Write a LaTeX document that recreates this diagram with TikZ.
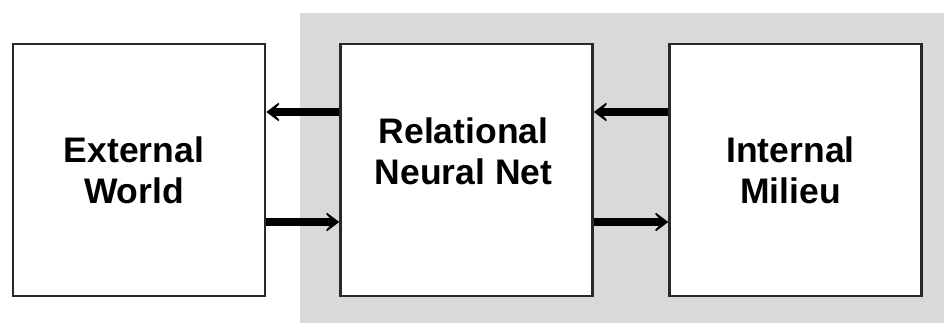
\documentclass[tikz,border=0pt]{standalone}
\usepackage{fontspec}
\setmainfont{Liberation Sans}
\usetikzlibrary{arrows.meta}
\definecolor{panelgray}{RGB}{217,217,217}
\definecolor{edgecol}{RGB}{40,40,40}
\tikzset{
  blockbox/.style={draw=edgecol, line width=2.5pt, fill=white, minimum width=252pt, minimum height=252pt, inner sep=0pt},
  blocktext/.style={font=\bfseries\fontsize{35.5}{41}\selectfont, align=center, inner sep=0pt},
  flow/.style={line width=8pt, -{Stealth[length=18pt, width=27pt, inset=12pt]}}
}
\begin{document}
\begin{tikzpicture}[x=1pt, y=-1pt]
\useasboundingbox (0,0) rectangle (944,323);
\fill[panelgray] (300,13) rectangle (944,323);
\node[blockbox, label={[blocktext, xshift=-5pt]center:External\\World}] (ew) at (139,170) {};
\node[blockbox, label={[blocktext, xshift=-3pt, yshift=19pt]center:Relational\\Neural Net}] (rnn) at (466.5,170) {};
\node[blockbox, label={[blocktext, xshift=-5pt]center:Internal\\Milieu}] (im) at (795.5,170) {};
\draw[flow] ([yshift=58pt]rnn.west) -- ([yshift=58pt]ew.east);
\draw[flow] ([yshift=-52pt]ew.east) -- ([yshift=-52pt]rnn.west);
\draw[flow] ([yshift=58pt]im.west) -- ([yshift=58pt]rnn.east);
\draw[flow] ([yshift=-52pt]rnn.east) -- ([yshift=-52pt]im.west);
\end{tikzpicture}
\end{document}
